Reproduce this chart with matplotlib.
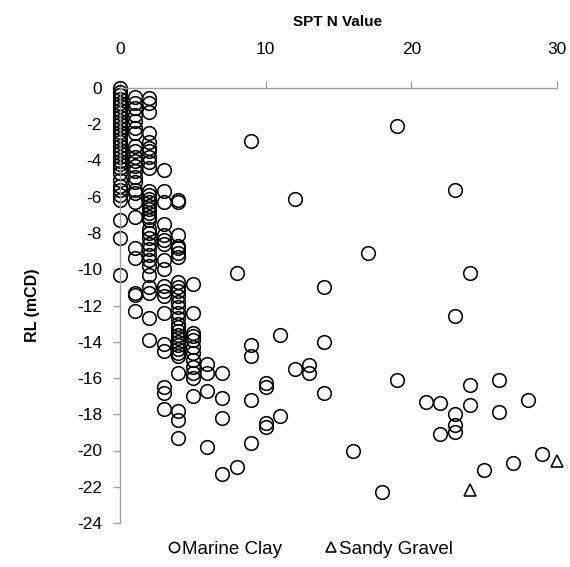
import matplotlib
matplotlib.use("Agg")
import matplotlib.pyplot as plt

plt.rcParams['font.family'] = ['Liberation Sans', 'DejaVu Sans']

# Marine Clay: RL values grouped by SPT N value (dense low-N columns)
rl_n0 = [0, -0.2, -0.4, -0.6, -0.8, -1.0, -1.2, -1.4, -1.6, -1.8, -2.0, -2.2, -2.4,
         -2.6, -2.8, -3.0, -3.2, -3.4, -3.6, -3.8, -4.0, -4.2, -4.4, -4.7, -5.1,
         -5.4, -5.6, -5.9, -6.2, -7.3, -8.3, -10.3]
rl_n1 = [-0.5, -0.8, -1.1, -1.5, -1.8, -2.2, -2.5, -3.2, -3.5, -3.8, -4.0, -4.3,
         -4.6, -4.9, -5.2, -5.6, -5.8, -6.3, -7.1, -8.8, -9.4, -11.3, -11.4, -12.3]
rl_n2 = [-0.55, -0.8, -1.3, -2.5, -3.0, -3.3, -3.5, -3.8, -4.1, -4.4, -5.7, -5.9,
         -6.1, -6.3, -6.5, -6.7, -6.9, -7.1, -7.3, -7.8, -8.0, -8.3, -8.6, -8.9,
         -9.2, -9.5, -9.8, -10.3, -11.0, -11.3, -12.7, -13.9]
rl_n3 = [-4.5, -5.7, -6.3, -7.5, -8.1, -8.4, -8.6, -9.5, -10.0, -10.9, -11.2, -11.5,
         -12.4, -14.1, -14.5, -16.5, -16.8, -17.7]
rl_n4 = [-6.2, -6.3, -8.1, -8.7, -8.8, -9.1, -9.3, -10.7, -11.0, -11.2, -11.5, -11.8,
         -12.1, -12.4, -12.7, -13.0, -13.2, -13.4, -13.6, -13.8, -14.0, -14.2,
         -14.4, -14.6, -14.8, -15.7, -17.8, -18.3, -19.3]
rl_n5 = [-10.8, -12.4, -13.5, -13.7, -13.9, -14.3, -14.6, -15.0, -15.4, -15.7,
         -16.0, -17.0]

# Marine Clay: scattered higher-N points
clay_n_hi = [6, 6, 6, 6, 7, 7, 7, 7, 8, 8, 9, 9, 9, 9, 9, 10, 10, 10, 10, 11, 11,
             12, 12, 13, 13, 14, 14, 14, 16, 17, 18, 19, 19, 21, 22, 22, 23, 23,
             23, 23, 23, 24, 24, 24, 25, 26, 26, 27, 28, 29]
clay_rl_hi = [-15.2, -15.7, -16.7, -19.8, -15.7, -17.1, -18.2, -21.3, -10.2, -20.9,
              -2.9, -14.2, -14.8, -17.2, -19.6, -16.3, -16.5, -18.5, -18.7, -13.6,
              -18.1, -6.1, -15.5, -15.3, -15.7, -11.0, -14.0, -16.8, -20.0, -9.1,
              -22.3, -2.1, -16.1, -17.3, -17.4, -19.1, -5.6, -12.6, -18.0, -18.6,
              -19.0, -10.2, -16.4, -17.5, -21.1, -16.1, -17.9, -20.7, -17.2, -20.2]

# Sandy Gravel
gravel_n = [30, 24]
gravel_rl = [-20.6, -22.2]

x_ticks = [0, 10, 20, 30]
y_ticks = list(range(0, -25, -2))

clay_n = []
clay_rl = []
for n, rls in enumerate([rl_n0, rl_n1, rl_n2, rl_n3, rl_n4, rl_n5]):
    clay_n += [n] * len(rls)
    clay_rl += rls
clay_n += clay_n_hi
clay_rl += clay_rl_hi

fig = plt.figure(figsize=(5.7, 5.67), dpi=100)
ax = fig.add_axes([120/570, 1-523/567, (557-120)/570, (523-88)/567])

ax.plot(clay_n, clay_rl, linestyle='none', marker='o', markersize=9.8,
        markerfacecolor='none', markeredgecolor='black', markeredgewidth=1.15,
        label='Marine Clay', clip_on=False)
ax.plot(gravel_n, gravel_rl, linestyle='none', marker='^', markersize=9,
        markerfacecolor='none', markeredgecolor='black', markeredgewidth=1.15,
        label='Sandy Gravel', clip_on=False)

ax.set_xlim(0, 30)
ax.set_ylim(-24, 0)
ax.set_xticks(x_ticks)
ax.set_yticks(y_ticks)
ax.set_yticklabels([str(v) for v in y_ticks])

ax.xaxis.tick_top()
ax.xaxis.set_label_position('top')
axis_col = '#a0a0a0'
for s in ['right', 'bottom']:
    ax.spines[s].set_visible(False)
for s in ['left', 'top']:
    ax.spines[s].set_color(axis_col)
    ax.spines[s].set_linewidth(1.0)
ax.tick_params(axis='x', direction='out', length=5, width=1.0, color=axis_col,
               labelsize=12.5, pad=17, top=True, bottom=False)
ax.tick_params(axis='y', direction='out', length=5, width=1.0, color=axis_col,
               labelsize=12.5, pad=8)

fig.text(338/570, 1-22/567, 'SPT N Value', fontsize=11, fontweight='bold',
         ha='center', va='center')
fig.text(33/570, 1-305/567, 'RL (mCD)', fontsize=11.5, fontweight='bold',
         ha='center', va='center', rotation=90)

fig.legend(loc='center', bbox_to_anchor=(310/570, 1-549/567), ncol=2,
           frameon=False, fontsize=13.5, handlelength=0.7, handletextpad=0.05,
           columnspacing=2.3, borderaxespad=0, markerscale=0.75)

fig.savefig('out.png', dpi=100)
